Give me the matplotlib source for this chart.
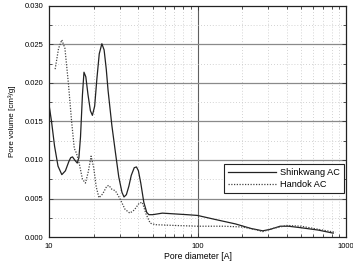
import matplotlib
matplotlib.use("Agg")
import matplotlib.pyplot as plt
from matplotlib.ticker import FixedLocator, FixedFormatter, MultipleLocator, NullFormatter
import numpy as np

plt.rcParams['font.family'] = ['Liberation Sans', 'DejaVu Sans']

# Shinkwang AC (solid)
shin_x = [10, 10.4, 10.9, 11.5, 12.2, 12.9, 13.6, 14.0, 14.4, 14.9, 15.5, 15.9, 16.3, 16.8,
          17.2, 17.7, 18.3, 19.0, 19.6, 20.3, 21.0, 21.8, 22.7, 23.5, 24.3, 25.0, 26.5, 28.0,
          29.5, 31.0, 32.0, 33.2, 34.5, 35.8, 37.5, 38.8, 40.0, 41.5, 43.5, 45.5, 47, 50, 58,
          70, 85, 100, 130, 180, 230, 275, 310, 360, 410, 500, 650, 820]
shin_y = [0.0172, 0.0150, 0.0118, 0.0092, 0.0081, 0.0086, 0.0098, 0.0103, 0.0104, 0.0100,
          0.0096, 0.0103, 0.0130, 0.0185, 0.0214, 0.0208, 0.0185, 0.0164, 0.0158, 0.0170,
          0.0205, 0.0238, 0.0251, 0.0243, 0.0218, 0.0190, 0.0145, 0.0110, 0.0078, 0.0058,
          0.0052, 0.0055, 0.0066, 0.0080, 0.0090, 0.0091, 0.0086, 0.0070, 0.0045, 0.0032,
          0.0029, 0.0029, 0.0031, 0.0030, 0.0029, 0.0028, 0.0023, 0.0017, 0.0011, 0.0008,
          0.0010, 0.0014, 0.0014, 0.0012, 0.0009, 0.0005]

# Handok AC (dotted)
hand_x = [11.0, 11.6, 12.2, 12.8, 13.5, 14.2, 14.8, 15.3, 16.0, 16.8, 17.6, 18.4, 19.2, 20.0,
          20.8, 21.7, 23.0, 24.5, 25.3, 26.5, 28.0, 30.0, 32.5, 35.0, 37.5, 40.5, 42.5, 45.0,
          48.0, 52, 70, 100, 150, 200, 240, 275, 320, 400, 500, 650, 850]
hand_y = [0.0218, 0.0245, 0.0256, 0.0245, 0.0200, 0.0150, 0.0115, 0.0109, 0.0095, 0.0075,
          0.0070, 0.0085, 0.0105, 0.0090, 0.0065, 0.0051, 0.0056, 0.0066, 0.0067, 0.0062,
          0.0060, 0.0050, 0.0036, 0.0031, 0.0035, 0.0044, 0.0045, 0.0030, 0.0018, 0.0016,
          0.0015, 0.0014, 0.0014, 0.0013, 0.0010, 0.0007, 0.0011, 0.0015, 0.0014, 0.0010,
          0.0006]

x_ticks = [10, 100, 1000]
x_tick_labels = ["10", "100", "1000"]
y_ticks = [0.000, 0.005, 0.010, 0.015, 0.020, 0.025, 0.030]
y_tick_labels = ["0.000", "0.005", "0.010", "0.015", "0.020", "0.025", "0.030"]

W, H = 353, 262
fig = plt.figure(figsize=(W / 100, H / 100), dpi=100)
ax = fig.add_axes([49 / W, (H - 237) / H, 297 / W, 231 / H])

ax.set_xscale('log')
ax.set_xlim(10, 1000)
ax.set_ylim(0, 0.030)

# grid
minor_x = [v * d for d in (10, 100) for v in range(2, 10)]
for xv in minor_x:
    ax.axvline(xv, color='#c4c4c4', lw=0.6, ls=(0, (1, 2.5)), zorder=0)
ax.axvline(100, color='#606060', lw=0.8, zorder=0)
for yv in np.arange(0.0025, 0.030, 0.005):
    ax.axhline(yv, color='#c4c4c4', lw=0.6, ls=(0, (1, 2.5)), zorder=0)
for yv in [0.005, 0.010, 0.015, 0.020, 0.025]:
    ax.axhline(yv, color='#8a8a8a', lw=0.9, zorder=0)

ax.plot(shin_x, shin_y, color='#222222', lw=0.9, label='Shinkwang AC')
ax.plot(hand_x, hand_y, color='#444444', lw=0.9, ls=(0, (1, 1.2)), label='Handok AC')

ax.xaxis.set_major_locator(FixedLocator(x_ticks))
ax.xaxis.set_major_formatter(FixedFormatter(x_tick_labels))
ax.xaxis.set_minor_locator(FixedLocator(minor_x))
ax.xaxis.set_minor_formatter(NullFormatter())
ax.yaxis.set_major_locator(FixedLocator(y_ticks))
ax.yaxis.set_major_formatter(FixedFormatter(y_tick_labels))
ax.yaxis.set_minor_locator(MultipleLocator(0.0025))

ax.tick_params(which='both', direction='in', top=True, right=True, labelsize=5.5,
               color='#333333', width=0.6)
ax.tick_params(which='major', length=3, pad=4)
ax.tick_params(which='minor', length=2)
for s in ax.spines.values():
    s.set_linewidth(0.9)
    s.set_color('#222222')

ax.set_ylabel('Pore volume [cm³/g]', fontsize=5.8, labelpad=6)
ax.set_xlabel('Pore diameter [A]', fontsize=6.2, labelpad=2)

leg = ax.legend(loc='lower right', bbox_to_anchor=(0.992, 0.19), fontsize=6.6,
                frameon=True, fancybox=False, edgecolor='#222222', framealpha=1,
                handlelength=5.2, handletextpad=0.4, borderpad=0.45, labelspacing=0.3,
                borderaxespad=0)
leg.get_frame().set_linewidth(0.8)

fig.savefig('out.png', dpi=100)
